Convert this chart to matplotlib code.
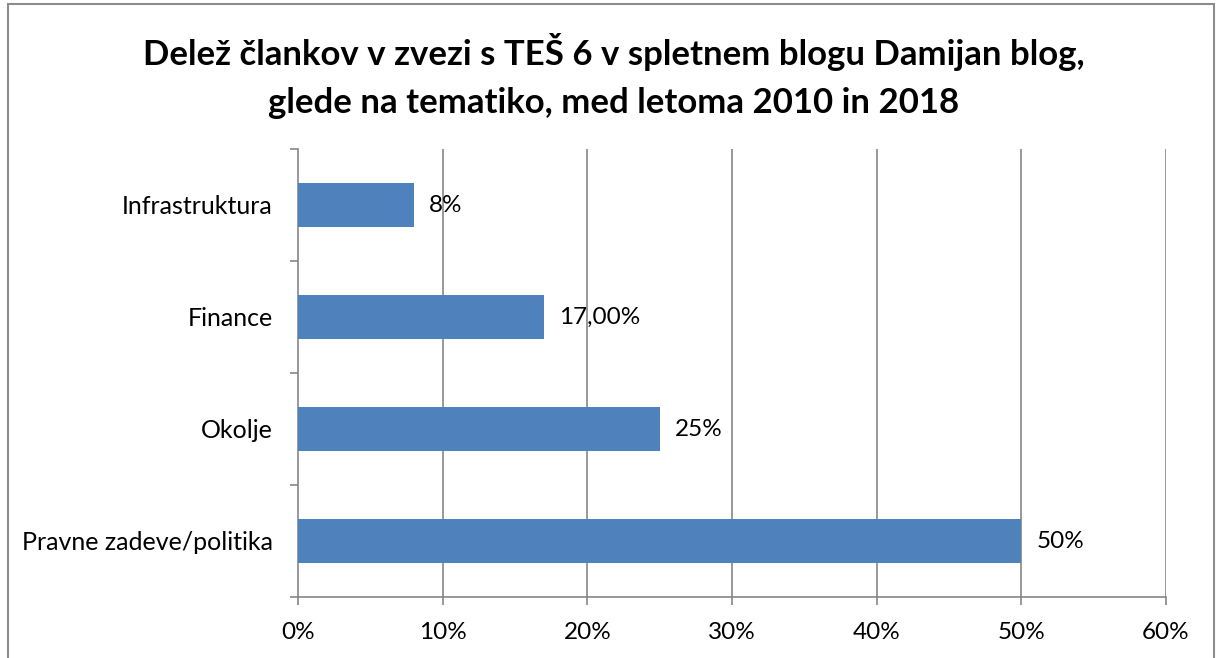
import matplotlib.pyplot as plt
from matplotlib.patches import Rectangle
import numpy as np

plt.rcParams['font.family'] = ['Lato', 'DejaVu Sans']

#####data#####################
categories = ['Pravne zadeve/politika', 'Okolje', 'Finance', 'Infrastruktura']
values     = [50, 25, 17, 8]
val_labels = ['50%', '25%', '17,00%', '8%']
xticks     = [0, 10, 20, 30, 40, 50, 60]
title_txt  = 'Delež člankov v zvezi s TEŠ 6 v spletnem blogu Damijan blog,\nglede na tematiko, med letoma 2010 in 2018'

bar_col    = '#4F81BD'
grid_col   = '#868686'

W, H = 1224, 658
fig = plt.figure(figsize=(W/100, H/100), dpi=100)

#####frame round the chart######
fig.patches.append(Rectangle((8/W, -0.01), (1214-8)/W, (H-4)/H + 0.01,
                             transform=fig.transFigure, fill=False,
                             edgecolor='#8c8c8c', lw=1.5))

ax = fig.add_axes([298/W, (H-597)/H, (1166-298)/W, (597-149)/H])

y = np.arange(len(categories))
ax.barh(y, values, height=0.4, color=bar_col, zorder=3)

for yi, v, lb in zip(y, values, val_labels):
    ax.annotate(lb, (v, yi), xytext=(11, 0), textcoords='offset points',
                va='center', ha='left', fontsize=17.5, zorder=4)

ax.set_xlim(0, 60)
ax.set_ylim(-0.5, 3.5)
ax.set_xticks(xticks)
ax.set_xticklabels(['%d%%' % t for t in xticks], fontsize=17.5)
ax.set_yticks(y)
ax.set_yticklabels(categories, fontsize=18)
ax.set_yticks(np.arange(-0.5, 4, 1), minor=True)

ax.tick_params(axis='y', which='major', length=0, pad=18)
ax.tick_params(axis='y', which='minor', length=6, color=grid_col, width=1.2)
ax.tick_params(axis='x', length=6, color=grid_col, width=1.2, pad=12)

for t in xticks[1:]:
    ax.axvline(t, color=grid_col, lw=1.2, zorder=1)

for s in ['top', 'right']:
    ax.spines[s].set_visible(False)
for s in ['left', 'bottom']:
    ax.spines[s].set_color(grid_col)
    ax.spines[s].set_linewidth(1.2)

fig.text(614/W, 1 - 76/H, title_txt, ha='center', va='center',
         fontsize=25, fontweight='bold', linespacing=1.6)

fig.savefig('out.png', dpi=100)
